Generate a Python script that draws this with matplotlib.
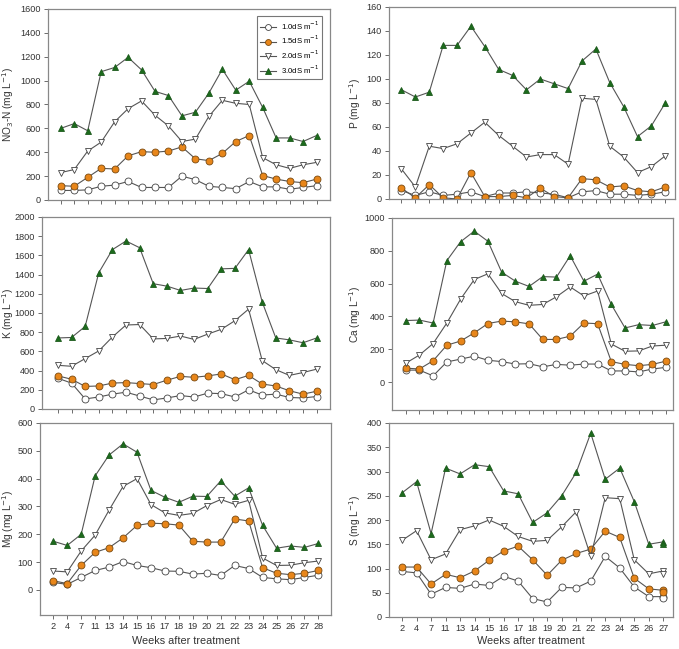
import numpy as np
import matplotlib
matplotlib.use("Agg")
import matplotlib.pyplot as plt

plt.rcParams['font.family'] = ['Liberation Sans', 'DejaVu Sans']

weeks_left = ['2', '4', '7', '11', '13', '14', '15', '16', '17', '18', '19', '20',
              '21', '22', '23', '24', '25', '26', '27', '28']
weeks_right = ['2', '4', '7', '11', '13', '14', '15', '16', '17', '18', '19', '20',
               '21', '22', '23', '24', '25', '26', '27']
labels = ['1.0dS m$^{-1}$', '1.5dS m$^{-1}$', '2.0dS m$^{-1}$', '3.0dS m$^{-1}$']

# NO3-N
no3_10 = [80, 80, 85, 115, 125, 155, 105, 105, 105, 200, 170, 115, 105, 95, 155, 110, 110, 90, 105, 120]
no3_15 = [120, 115, 190, 265, 260, 370, 405, 400, 410, 445, 345, 330, 390, 490, 540, 205, 175, 155, 145, 175]
no3_20 = [230, 255, 410, 485, 655, 765, 830, 710, 620, 490, 510, 700, 835, 810, 800, 355, 295, 265, 295, 315]
no3_30 = [600, 640, 580, 1075, 1110, 1195, 1090, 910, 875, 705, 735, 895, 1095, 920, 995, 775, 520, 520, 490, 540]

# P
p_10 = [7, 3, 6, 3, 4, 6, 2, 5, 5, 6, 5, 4, 1, 6, 7, 4, 4, 3, 4, 6]
p_15 = [9, 1, 12, 1, 0, 22, 2, 2, 3, 1, 9, 2, 1, 17, 16, 10, 11, 7, 6, 10]
p_20 = [25, 10, 44, 42, 46, 55, 64, 53, 44, 35, 37, 37, 29, 84, 83, 44, 35, 22, 27, 36]
p_30 = [91, 85, 89, 128, 128, 144, 127, 108, 103, 91, 100, 96, 92, 115, 125, 97, 77, 52, 61, 80]

# K
k_10 = [320, 270, 105, 125, 155, 175, 135, 95, 115, 140, 125, 165, 160, 125, 200, 145, 155, 120, 115, 130]
k_15 = [345, 310, 235, 240, 270, 275, 265, 255, 300, 340, 330, 345, 365, 305, 350, 260, 240, 190, 155, 185]
k_20 = [455, 445, 525, 605, 750, 875, 880, 730, 735, 760, 725, 780, 830, 920, 1040, 505, 410, 350, 380, 415]
k_30 = [740, 745, 860, 1420, 1660, 1750, 1680, 1305, 1280, 1235, 1260, 1255, 1460, 1465, 1660, 1115, 740, 720, 690, 740]

# Ca
ca_10 = [73, 73, 38, 123, 140, 158, 133, 125, 110, 112, 93, 108, 103, 110, 110, 68, 68, 62, 80, 90]
ca_15 = [85, 80, 130, 225, 250, 300, 357, 372, 367, 355, 260, 260, 280, 360, 356, 125, 108, 100, 108, 128]
ca_20 = [115, 165, 235, 360, 505, 625, 660, 540, 490, 468, 473, 520, 580, 525, 555, 232, 188, 190, 220, 225]
ca_30 = [375, 378, 360, 740, 855, 920, 858, 670, 615, 583, 643, 640, 770, 615, 658, 473, 330, 350, 345, 368]

# Mg
mg_10 = [27, 20, 45, 70, 82, 102, 88, 80, 68, 67, 57, 60, 52, 88, 77, 45, 40, 37, 45, 53]
mg_15 = [33, 23, 88, 135, 152, 187, 232, 240, 238, 233, 175, 172, 172, 255, 248, 80, 60, 55, 60, 70]
mg_20 = [68, 65, 140, 197, 287, 372, 400, 307, 277, 268, 275, 303, 325, 308, 322, 115, 88, 89, 98, 104]
mg_30 = [175, 160, 200, 410, 485, 525, 495, 358, 333, 315, 337, 336, 392, 337, 367, 232, 150, 158, 153, 167]

# S (last week sampled twice)
s_10 = [94, 91, 47, 61, 59, 68, 65, 84, 74, 38, 31, 61, 60, 74, 125, 101, 62, 42, 42, 40]
s_15 = [103, 103, 68, 88, 81, 95, 117, 136, 146, 118, 86, 117, 131, 140, 177, 164, 80, 58, 55, 52]
s_20 = [158, 178, 118, 130, 180, 188, 200, 187, 166, 156, 158, 186, 217, 125, 246, 244, 118, 89, 95, 88]
s_30 = [256, 279, 172, 307, 295, 314, 310, 260, 254, 195, 215, 250, 298, 379, 284, 307, 238, 150, 155, 150]
s_pos = list(range(19)) + [18]

W, H = 679, 649
fig = plt.figure(figsize=(W / 100, H / 100), dpi=100)


def box(l, r, t, b):
    return [l / W, 1 - b / H, (r - l) / W, (b - t) / H]


styles = [
    dict(marker='o', mfc='white', mec='#444444', ms=5.0),
    dict(marker='o', mfc='#e8861a', mec='#7a4a10', ms=5.0),
    dict(marker='v', mfc='white', mec='#444444', ms=5.0),
    dict(marker='^', mfc='#1c6b1c', mec='#1c5a1c', ms=4.8),
]


def panel(rect, xpos, series, ylim, yticks, ylabel, xlim, labx, xlabels=None):
    l, r, t, b = rect
    ax = fig.add_axes(box(*rect))
    for vals, st, lab in zip(series, styles, labels):
        ax.plot(xpos, vals, color='#555555', lw=0.8, mew=0.6, label=lab, **st)
    ax.set_ylim(*ylim)
    ax.set_yticks(yticks)
    ax.set_xlim(*xlim)
    ax.set_xticks(range(max(xpos) + 1))
    if xlabels is None:
        ax.set_xticklabels([])
    else:
        ax.set_xticklabels(xlabels)
        fig.text((l + r) / 2 / W, 1 - 641 / H, 'Weeks after treatment', fontsize=7.8,
                 color='#333333', ha='center', va='center')
    fig.text(labx / W, 1 - (t + b) / 2 / H, ylabel, rotation=90, fontsize=7.3,
             color='#333333', ha='center', va='center')
    ax.tick_params(direction='out', length=3, width=0.6, colors='#555555',
                   labelsize=6.6, labelcolor='#333333', pad=2)
    for sp in ax.spines.values():
        sp.set_color('#888888')
        sp.set_linewidth(0.9)
    return ax


x20 = list(range(20))
ax1 = panel((48, 330, 9, 200), x20, [no3_10, no3_15, no3_20, no3_30], (0, 1600),
            range(0, 1601, 200), 'NO$_3$-N (mg L$^{-1}$)', (-0.95, 20.0), 8)
leg = ax1.legend(loc='upper right', bbox_to_anchor=(0.987, 0.985), fontsize=5.6,
                 frameon=True, fancybox=False, handlelength=2.0, borderpad=0.45,
                 labelspacing=0.3, handletextpad=0.6, markerscale=0.85)
leg.get_frame().set_edgecolor('#555555')
leg.get_frame().set_linewidth(0.8)

panel((389, 675, 7, 199), x20, [p_10, p_15, p_20, p_30], (0, 160),
      range(0, 161, 20), 'P (mg L$^{-1}$)', (-0.9, 19.7), 355)
panel((42, 330, 217, 409), x20, [k_10, k_15, k_20, k_30], (0, 2000),
      range(0, 2001, 200), 'K (mg L$^{-1}$)', (-1.17, 19.98), 8)
panel((392, 673, 218, 410), x20, [ca_10, ca_15, ca_20, ca_30], (-170, 1000),
      range(0, 1001, 200), 'Ca (mg L$^{-1}$)', (-1.0, 19.5), 355)
panel((40, 331, 423, 615), x20, [mg_10, mg_15, mg_20, mg_30], (-90, 600),
      range(0, 601, 100), 'Mg (mg L$^{-1}$)', (-0.95, 19.9), 8, xlabels=weeks_left)
panel((389, 673, 423, 617), s_pos, [s_10, s_15, s_20, s_30], (0, 400),
      range(0, 401, 50), 'S (mg L$^{-1}$)', (-0.9, 18.67), 355, xlabels=weeks_right)

fig.savefig('out.png', dpi=100)
